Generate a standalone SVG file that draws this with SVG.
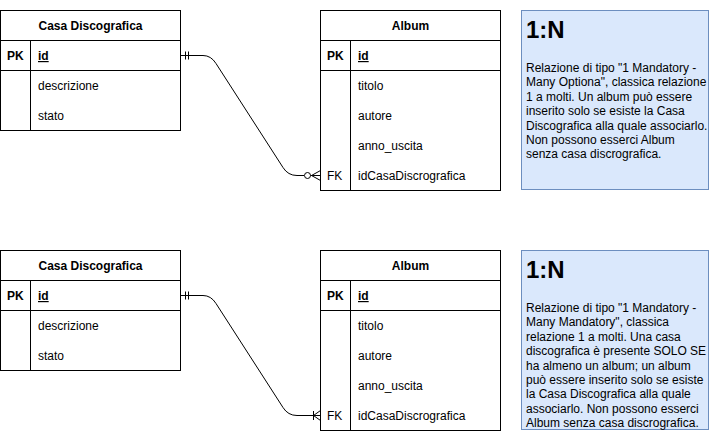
<svg xmlns="http://www.w3.org/2000/svg" width="711" height="431" viewBox="0 0 711 431">
<style>
text{font-family:"Liberation Sans",Arial,Helvetica,sans-serif;font-size:12px;fill:#000}
.b{font-weight:bold}
.c{text-anchor:middle}
.u{text-decoration:underline}
.box{fill:#fff;stroke:#000;stroke-width:1}
.ln{stroke:#000;stroke-width:1;fill:none}
.note{fill:#dae8fc;stroke:#6c8ebf;stroke-width:1}
.h{font-size:24px;font-weight:bold}
</style>
<rect width="711" height="431" fill="#fff"/>

<g id="casa1">
<rect class="box" x="0.5" y="10.5" width="180" height="120"/>
<path class="ln" d="M0.5 40.5H180.5M0.5 70.5H180.5M30.5 40.5V130.5"/>
<text class="b c" x="90.5" y="30">Casa Discografica</text>
<text class="b" x="7" y="60">PK</text>
<text class="b u" x="38" y="60">id</text>
<text x="38" y="90">descrizione</text>
<text x="38" y="120">stato</text>
</g>

<g id="album1">
<rect class="box" x="320.5" y="10.5" width="180" height="180"/>
<path class="ln" d="M320.5 40.5H500.5M320.5 70.5H500.5M350.5 40.5V190.5"/>
<text class="b c" x="410.5" y="30">Album</text>
<text class="b" x="327" y="60">PK</text>
<text class="b u" x="358" y="60">id</text>
<text x="358" y="90">titolo</text>
<text x="358" y="120">autore</text>
<text x="358" y="150">anno_uscita</text>
<text x="327" y="180">FK</text>
<text x="358" y="180">idCasaDiscrografica</text>
</g>

<g id="note1">
<rect class="note" x="521.5" y="10.5" width="187" height="179"/>
<text class="h" x="526" y="38">1:N</text>
<text x="526" y="72">Relazione di tipo "1 Mandatory -</text>
<text x="526" y="86.4">Many Optiona", classica relazione</text>
<text x="526" y="100.8">1 a molti. Un album può essere</text>
<text x="526" y="115.2">inserito solo se esiste la Casa</text>
<text x="526" y="129.6">Discografica alla quale associarlo.</text>
<text x="526" y="144">Non possono esserci Album</text>
<text x="526" y="158.4">senza casa discrografica.</text>
</g>

<g id="casa2">
<rect class="box" x="0.5" y="250.5" width="180" height="120"/>
<path class="ln" d="M0.5 280.5H180.5M0.5 310.5H180.5M30.5 280.5V370.5"/>
<text class="b c" x="90.5" y="270">Casa Discografica</text>
<text class="b" x="7" y="300">PK</text>
<text class="b u" x="38" y="300">id</text>
<text x="38" y="330">descrizione</text>
<text x="38" y="360">stato</text>
</g>

<g id="album2">
<rect class="box" x="320.5" y="250.5" width="180" height="180"/>
<path class="ln" d="M320.5 280.5H500.5M320.5 310.5H500.5M350.5 280.5V430.5"/>
<text class="b c" x="410.5" y="270">Album</text>
<text class="b" x="327" y="300">PK</text>
<text class="b u" x="358" y="300">id</text>
<text x="358" y="330">titolo</text>
<text x="358" y="360">autore</text>
<text x="358" y="390">anno_uscita</text>
<text x="327" y="420">FK</text>
<text x="358" y="420">idCasaDiscrografica</text>
</g>

<g id="note2">
<rect class="note" x="521.5" y="250.5" width="187" height="179"/>
<text class="h" x="526" y="278">1:N</text>
<text x="526" y="312">Relazione di tipo "1 Mandatory -</text>
<text x="526" y="326.4">Many Mandatory", classica</text>
<text x="526" y="340.8">relazione 1 a molti. Una casa</text>
<text x="526" y="355.2">discografica è presente SOLO SE</text>
<text x="526" y="369.6">ha almeno un album; un album</text>
<text x="526" y="384">può essere inserito solo se esiste</text>
<text x="526" y="398.4">la Casa Discografica alla quale</text>
<text x="526" y="412.8">associarlo. Non possono esserci</text>
<text x="526" y="427.2">Album senza casa discrografica.</text>
</g>

<g id="connectors">
<g id="edge1">
<path class="ln" d="M180.5 55.5H203Q211 55.5 216 63.5L283 167.5Q288 175.5 297 175.5H304"/>
<path class="ln" d="M185.5 51.5V59.5M188.5 51.5V59.5"/>
<circle class="ln" cx="307.5" cy="175.5" r="3"/>
<path class="ln" d="M310.5 175.5H320.5M311.5 175.5L320.5 170.5M311.5 175.5L320.5 180.5"/>
</g>
<g id="edge2">
<path class="ln" d="M180.5 295.5H203Q211 295.5 216 303.5L283 407.5Q288 415.5 297 415.5H320.5"/>
<path class="ln" d="M185.5 291.5V299.5M188.5 291.5V299.5"/>
<path class="ln" d="M313.5 411V420M313.5 415.5L320.5 410.5M313.5 415.5L320.5 420.5"/>
</g>
</g>
</svg>
